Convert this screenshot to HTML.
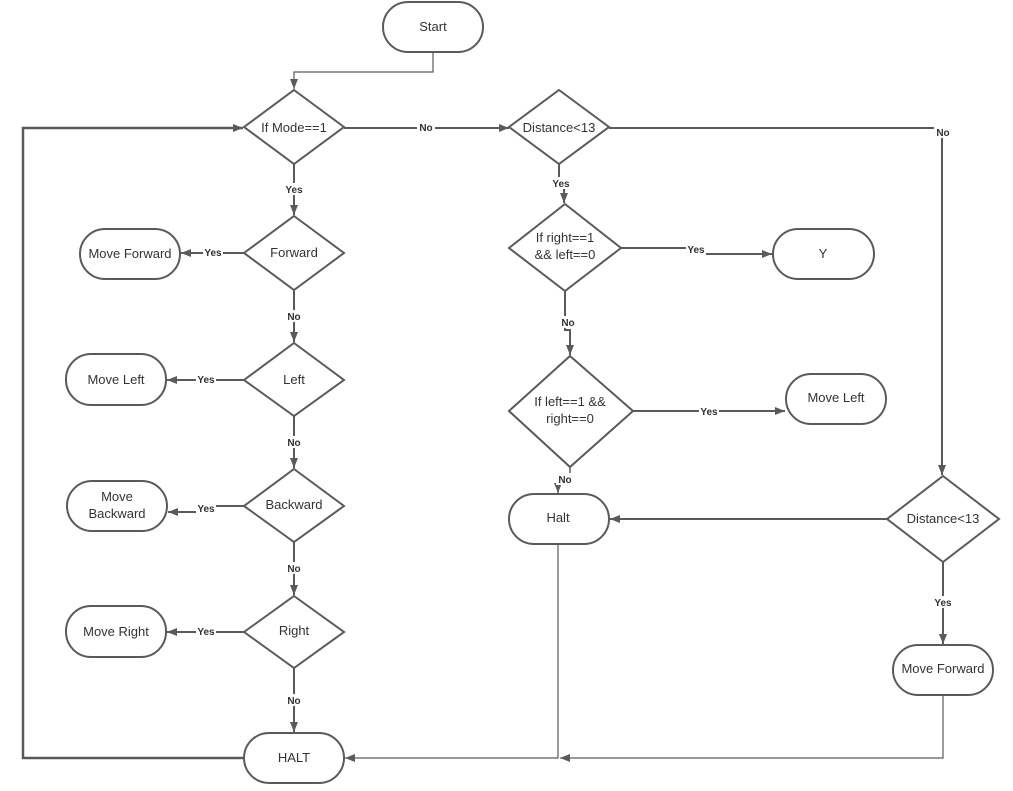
<!DOCTYPE html>
<html><head><meta charset="utf-8"><style>
html,body{margin:0;padding:0;background:#fff;}
svg{display:block;}
text{font-family:"Liberation Sans",Arial,sans-serif;fill:#333;}
.n{font-size:13px;text-anchor:middle;}
.l{font-size:10px;font-weight:bold;text-anchor:middle;}
</style></head><body>
<svg width="1013" height="791" viewBox="0 0 1013 791" xmlns="http://www.w3.org/2000/svg">
<defs>
<marker id="a" viewBox="0 0 10 10" refX="10" refY="5" markerWidth="10" markerHeight="10" markerUnits="userSpaceOnUse" orient="auto"><path d="M0,1 L10,5 L0,9 z" fill="#5a5a5a"/></marker>
</defs>
<g fill="#fff" stroke="#5a5a5a" stroke-width="2">
<!-- nodes -->
<rect x="383" y="2" width="100" height="50" rx="25"/>
<polygon points="294,90 344,127 294,164 244,127"/>
<polygon points="559,90 609,127 559,164 509,127"/>
<polygon points="294,216 344,253 294,290 244,253"/>
<polygon points="294,343 344,380 294,416 244,380"/>
<polygon points="294,469 344,506 294,542 244,506"/>
<polygon points="294,596 344,632 294,668 244,632"/>
<rect x="244" y="733" width="100" height="50" rx="25"/>
<rect x="80" y="229" width="100" height="50" rx="25"/>
<rect x="66" y="354" width="100" height="51" rx="25"/>
<rect x="67" y="481" width="100" height="50" rx="25"/>
<rect x="66" y="606" width="100" height="51" rx="25"/>
<polygon points="565,204 621,248 565,291 509,248"/>
<rect x="773" y="229" width="101" height="50" rx="25"/>
<polygon points="570,356 633,411 570,467 509,411"/>
<rect x="786" y="374" width="100" height="50" rx="25"/>
<rect x="509" y="494" width="100" height="50" rx="25"/>
<polygon points="943,476 999,519 943,562 887,519"/>
<rect x="893" y="645" width="100" height="50" rx="25"/>
</g>
<g fill="none" stroke="#5a5a5a" stroke-width="2">
<path d="M433,52 V72 H294 V89" stroke-width="1.2" marker-end="url(#a)"/>
<path d="M344,128 H509" marker-end="url(#a)"/>
<path d="M609,128 H942 V475" marker-end="url(#a)"/>
<path d="M244,758 H23 V128 H243" stroke-width="2.5" marker-end="url(#a)"/>
<path d="M294,164 V215" marker-end="url(#a)"/>
<path d="M294,290 V342" marker-end="url(#a)"/>
<path d="M294,416 V468" marker-end="url(#a)"/>
<path d="M294,542 V595" marker-end="url(#a)"/>
<path d="M294,668 V732" marker-end="url(#a)"/>
<path d="M244,253 H181" marker-end="url(#a)"/>
<path d="M244,380 H167" marker-end="url(#a)"/>
<path d="M244,506 H205 V512 H168" marker-end="url(#a)"/>
<path d="M244,632 H167" marker-end="url(#a)"/>
<path d="M559,164 V180 H564 V203" marker-end="url(#a)"/>
<path d="M621,248 H696 V254 H772" marker-end="url(#a)"/>
<path d="M565,291 V330 H570 V355" marker-end="url(#a)"/>
<path d="M633,411 H785" marker-end="url(#a)"/>
<path d="M570,467 V478 H558 V493" stroke-width="1.5" marker-end="url(#a)"/>
<path d="M887,519 H610" marker-end="url(#a)"/>
<path d="M943,562 V644" marker-end="url(#a)"/>
<path d="M558,544 V758 H345" stroke-width="1.2" marker-end="url(#a)"/>
<path d="M943,695 V758 H560" stroke-width="1.2" marker-end="url(#a)"/>
</g>
<g fill="#fff">
<rect x="417" y="121" width="18" height="12"/>
<rect x="934" y="126" width="18" height="12"/>
<rect x="283" y="183" width="22" height="12"/>
<rect x="550" y="177" width="22" height="12"/>
<rect x="284" y="310" width="20" height="12"/>
<rect x="284" y="436" width="20" height="12"/>
<rect x="284" y="562" width="20" height="12"/>
<rect x="284" y="694" width="20" height="12"/>
<rect x="558" y="316" width="20" height="12"/>
<rect x="556" y="473" width="18" height="12"/>
<rect x="203" y="246" width="20" height="12"/>
<rect x="196" y="373" width="20" height="12"/>
<rect x="196" y="502" width="20" height="12"/>
<rect x="196" y="625" width="20" height="12"/>
<rect x="686" y="243" width="20" height="12"/>
<rect x="699" y="405" width="20" height="12"/>
<rect x="932" y="596" width="22" height="12"/>
</g>
<g class="l">
<text x="426" y="131" class="l">No</text>
<text x="943" y="136" class="l">No</text>
<text x="294" y="193" class="l">Yes</text>
<text x="561" y="187" class="l">Yes</text>
<text x="294" y="320" class="l">No</text>
<text x="294" y="446" class="l">No</text>
<text x="294" y="572" class="l">No</text>
<text x="294" y="704" class="l">No</text>
<text x="568" y="326" class="l">No</text>
<text x="565" y="483" class="l">No</text>
<text x="213" y="256" class="l">Yes</text>
<text x="206" y="383" class="l">Yes</text>
<text x="206" y="512" class="l">Yes</text>
<text x="206" y="635" class="l">Yes</text>
<text x="696" y="253" class="l">Yes</text>
<text x="709" y="415" class="l">Yes</text>
<text x="943" y="606" class="l">Yes</text>
</g>
<g class="n">
<text x="433" y="31" class="n">Start</text>
<text x="294" y="132" class="n">If Mode==1</text>
<text x="559" y="132" class="n">Distance&lt;13</text>
<text x="294" y="257" class="n">Forward</text>
<text x="294" y="384" class="n">Left</text>
<text x="294" y="509" class="n">Backward</text>
<text x="294" y="635" class="n">Right</text>
<text x="294" y="762" class="n">HALT</text>
<text x="130" y="258" class="n">Move Forward</text>
<text x="116" y="384" class="n">Move Left</text>
<text x="117" y="501" class="n">Move</text>
<text x="117" y="518" class="n">Backward</text>
<text x="116" y="636" class="n">Move Right</text>
<text x="565" y="242" class="n">If right==1</text>
<text x="565" y="259" class="n">&amp;&amp; left==0</text>
<text x="823" y="258" class="n">Y</text>
<text x="570" y="406" class="n">If left==1 &amp;&amp;</text>
<text x="570" y="423" class="n">right==0</text>
<text x="836" y="402" class="n">Move Left</text>
<text x="558" y="522" class="n">Halt</text>
<text x="943" y="523" class="n">Distance&lt;13</text>
<text x="943" y="673" class="n">Move Forward</text>
</g>
</svg>
</body></html>
